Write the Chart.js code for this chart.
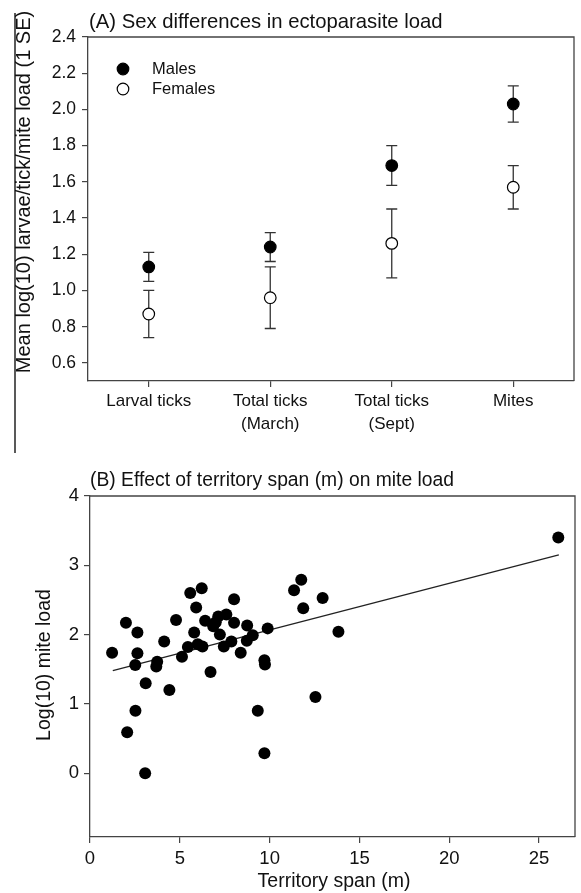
<!DOCTYPE html>
<html><head><meta charset="utf-8">
<script src="https://cdn.jsdelivr.net/npm/chart.js@4/dist/chart.umd.min.js"></script>
<style>
html,body{margin:0;padding:0;background:#fff;}
#wrap{position:relative;width:581px;height:893px;overflow:hidden;}
#a{position:absolute;left:0;top:0;}
#b{position:absolute;left:0;top:460px;}
</style></head><body>
<div id="wrap"><canvas id="a" width="581" height="470"></canvas><canvas id="b" width="581" height="433"></canvas></div>
<script>
// ---------- Panel A data ----------
const categories = [["Larval ticks"], ["Total ticks", "(March)"], ["Total ticks", "(Sept)"], ["Mites"]];
const maleMeans   = [1.13, 1.24, 1.69, 2.03];
const maleLower   = [1.05, 1.16, 1.58, 1.93];
const maleUpper   = [1.21, 1.32, 1.80, 2.13];
const femaleMeans = [0.87, 0.96, 1.26, 1.57];
const femaleLower = [0.74, 0.79, 1.07, 1.45];
const femaleUpper = [1.00, 1.13, 1.45, 1.69];
const yTicksA = [0.6, 0.8, 1.0, 1.2, 1.4, 1.6, 1.8, 2.0, 2.2, 2.4];

// ---------- Panel B data ----------
const spanX = [1.23, 2.0, 2.64, 2.64, 2.52, 3.10, 2.53, 2.07, 3.07, 3.74, 3.69, 4.13, 4.42, 4.79, 5.12, 5.45,
  5.91, 5.80, 6.0, 6.26, 6.41, 6.71, 6.86, 7.14, 7.23, 7.45, 7.59, 7.87, 8.02, 8.39, 8.75, 9.06, 8.73, 9.34,
  9.71, 9.74, 9.89, 9.71, 8.02, 11.87, 12.55, 13.83, 5.58, 6.22, 11.36, 11.76, 12.95, 26.07, 7.0];
const miteLoad = [1.74, 2.17, 2.03, 1.73, 1.56, 1.30, 0.90, 0.59, 0.0, 1.61, 1.54, 1.90, 1.20, 2.21, 1.68, 1.82,
  2.39, 2.03, 1.86, 1.83, 2.20, 1.46, 2.12, 2.26, 2.0, 1.83, 2.29, 1.90, 2.17, 1.74, 2.13, 1.99, 1.91, 0.90,
  1.63, 1.57, 2.09, 0.29, 2.51, 2.38, 1.10, 2.04, 2.60, 2.67, 2.64, 2.79, 2.53, 3.40, 2.18];
const fitX = [1.27, 26.1];
const fitY = [1.48, 3.15];
const xTicksB = [0, 5, 10, 15, 20, 25];
const yTicksB = [0, 1, 2, 3, 4];

const FONT = "'Liberation Sans', Arial, Helvetica, sans-serif";
const AXIS = '#444';

// draw text items, box and extras
const textPlugin = {
  id: 'texts',
  afterDraw(chart, args, opts) {
    const ctx = chart.ctx;
    const ca = chart.chartArea;
    ctx.save();
    // top and right frame
    ctx.strokeStyle = AXIS; ctx.lineWidth = 1.3;
    ctx.beginPath();
    ctx.moveTo(ca.left, ca.top); ctx.lineTo(ca.right, ca.top); ctx.lineTo(ca.right, ca.bottom);
    ctx.stroke();
    (opts.lines || []).forEach(l => {
      ctx.strokeStyle = l.color; ctx.lineWidth = l.width;
      ctx.beginPath(); ctx.moveTo(l.x1, l.y1); ctx.lineTo(l.x2, l.y2); ctx.stroke();
    });
    (opts.items || []).forEach(t => {
      ctx.save();
      ctx.font = t.font;
      ctx.fillStyle = '#111';
      ctx.textAlign = t.align || 'center';
      ctx.textBaseline = 'middle';
      ctx.translate(t.x, t.y);
      if (t.rotate) ctx.rotate(t.rotate);
      ctx.fillText(t.text, 0, 0);
      ctx.restore();
    });
    ctx.restore();
  }
};

const errorBarPlugin = {
  id: 'errbars',
  beforeDatasetsDraw(chart, args, opts) {
    if (!opts.bars) return;
    const ctx = chart.ctx;
    const xs = chart.scales.x, ys = chart.scales.y;
    ctx.save();
    ctx.strokeStyle = '#333'; ctx.lineWidth = 1.3;
    opts.bars.forEach(b => {
      b.lower.forEach((lo, i) => {
        const x = xs.getPixelForValue(i);
        const y1 = ys.getPixelForValue(lo), y2 = ys.getPixelForValue(b.upper[i]);
        ctx.beginPath();
        ctx.moveTo(x, y1); ctx.lineTo(x, y2);
        ctx.moveTo(x - 5.5, y1); ctx.lineTo(x + 5.5, y1);
        ctx.moveTo(x - 5.5, y2); ctx.lineTo(x + 5.5, y2);
        ctx.stroke();
      });
    });
    ctx.restore();
  }
};

const legendPlugin = {
  id: 'miniLegend',
  afterDraw(chart, args, opts) {
    if (!opts.entries) return;
    const ctx = chart.ctx;
    ctx.save();
    opts.entries.forEach(e => {
      const ds = chart.data.datasets[e.dataset];
      ctx.beginPath();
      ctx.arc(e.x, e.y, 5.8, 0, Math.PI * 2);
      ctx.fillStyle = ds.backgroundColor; ctx.fill();
      ctx.lineWidth = 1.2; ctx.strokeStyle = ds.borderColor; ctx.stroke();
      ctx.font = '16.5px ' + FONT; ctx.fillStyle = '#111';
      ctx.textAlign = 'left'; ctx.textBaseline = 'middle';
      ctx.fillText(ds.label, e.x + 29, e.y);
    });
    ctx.restore();
  }
};

Chart.register(textPlugin, errorBarPlugin, legendPlugin);

const gridCommon = { display: true, drawOnChartArea: false, drawTicks: true, tickLength: 6, color: AXIS, lineWidth: 1.2 };

new Chart(document.getElementById('a'), {
  type: 'line',
  data: {
    labels: categories,
    datasets: [
      { label: 'Males', data: maleMeans, showLine: false, pointRadius: 5.8, pointStyle: 'circle',
        backgroundColor: '#000', borderColor: '#000', pointBorderWidth: 1.2 },
      { label: 'Females', data: femaleMeans, showLine: false, pointRadius: 5.8, pointStyle: 'circle',
        backgroundColor: '#fff', borderColor: '#000', pointBorderWidth: 1.2 }
    ]
  },
  options: {
    responsive: false, animation: false, devicePixelRatio: 1, events: [],
    layout: { padding: { top: 37, right: 4, left: 0, bottom: 0 } },
    plugins: {
      legend: { display: false }, tooltip: { enabled: false },
      errbars: { bars: [ { lower: maleLower, upper: maleUpper }, { lower: femaleLower, upper: femaleUpper } ] },
      miniLegend: { entries: [ { dataset: 0, x: 123, y: 69 }, { dataset: 1, x: 123, y: 89 } ] },
      texts: {
        items: [
          { text: '(A) Sex differences in ectoparasite load', x: 89, y: 22, align: 'left', font: '20.3px ' + FONT },
          { text: 'Mean log(10) larvae/tick/mite load (1 SE)', x: 24, y: 192, rotate: -Math.PI / 2, font: '20px ' + FONT }
        ],
        lines: [ { x1: 15, y1: 13, x2: 15, y2: 453, color: '#222', width: 1.5 } ]
      }
    },
    scales: {
      x: {
        type: 'category', offset: true,
        grid: gridCommon,
        border: { display: true, color: AXIS, width: 1.3 },
        ticks: { color: '#111', font: { family: FONT, size: 17, lineHeight: 1.36 }, padding: 3, maxRotation: 0, autoSkip: false },
        afterFit(s) { s.height = 89; }
      },
      y: {
        type: 'linear', min: 0.5, max: 2.4,
        grid: gridCommon,
        border: { display: true, color: AXIS, width: 1.3 },
        ticks: { color: '#111', font: { family: FONT, size: 17.5 }, padding: 6, callback: v => v.toFixed(1) },
        afterBuildTicks(s) { s.ticks = yTicksA.map(v => ({ value: v })); },
        afterFit(s) { s.width = 88; }
      }
    }
  }
});

new Chart(document.getElementById('b'), {
  type: 'scatter',
  data: {
    datasets: [
      { label: 'Mite load', data: spanX.map((x, i) => ({ x: x, y: miteLoad[i] })),
        pointRadius: 6, backgroundColor: '#000', borderColor: '#000', pointBorderWidth: 0 },
      { type: 'line', label: 'Fit', data: fitX.map((x, i) => ({ x: x, y: fitY[i] })),
        borderColor: '#222', borderWidth: 1.3, pointRadius: 0, fill: false }
    ]
  },
  options: {
    responsive: false, animation: false, devicePixelRatio: 1, events: [],
    layout: { padding: { top: 36, right: 3, left: 0, bottom: 0 } },
    plugins: {
      legend: { display: false }, tooltip: { enabled: false },
      texts: {
        items: [
          { text: '(B) Effect of territory span (m) on mite load', x: 90, y: 21, align: 'left', font: '19.3px ' + FONT },
          { text: 'Log(10) mite load', x: 45, y: 205, rotate: -Math.PI / 2, font: '19.5px ' + FONT },
          { text: 'Territory span (m)', x: 334, y: 422, font: '19.5px ' + FONT }
        ]
      }
    },
    scales: {
      x: {
        type: 'linear', min: 0, max: 27,
        grid: gridCommon,
        border: { display: true, color: AXIS, width: 1.3 },
        ticks: { color: '#111', font: { family: FONT, size: 18.5, lineHeight: 1.2 }, padding: 5 },
        afterBuildTicks(s) { s.ticks = xTicksB.map(v => ({ value: v })); },
        afterFit(s) { s.height = 56; }
      },
      y: {
        type: 'linear', min: -0.92, max: 4,
        grid: gridCommon,
        border: { display: true, color: AXIS, width: 1.3 },
        ticks: { color: '#111', font: { family: FONT, size: 18.5 }, padding: 5 },
        afterBuildTicks(s) { s.ticks = yTicksB.map(v => ({ value: v })); },
        afterFit(s) { s.width = 90; }
      }
    }
  }
});
</script>
</body></html>
